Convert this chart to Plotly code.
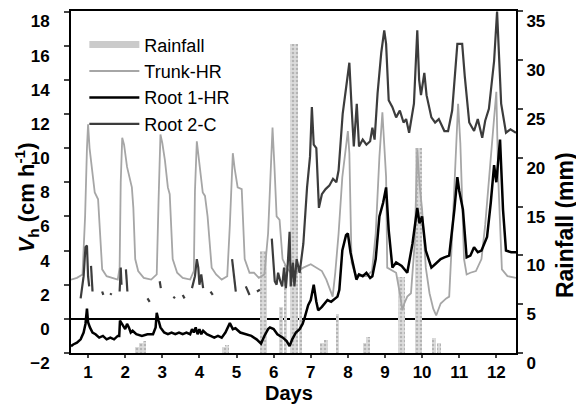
import plotly.graph_objects as go

# ---- data ----
trunk_days = [0.54, 0.7, 0.85, 0.92, 0.97, 1.0, 1.04, 1.1, 1.18, 1.27, 1.32, 1.38, 1.5, 1.65, 1.8,
              1.85, 1.88, 1.92, 1.97, 2.05, 2.18, 2.22, 2.27, 2.35, 2.5, 2.7, 2.85, 2.9, 2.95, 3.0,
              3.07, 3.15, 3.2, 3.28, 3.4, 3.55, 3.75, 3.85, 3.88, 3.93, 4.0, 4.09, 4.15, 4.22, 4.33,
              4.45, 4.6, 4.75, 4.82, 4.9, 4.95, 5.03, 5.14, 5.22, 5.35, 5.47, 5.6, 5.75, 5.85, 5.92,
              5.97, 6.02, 6.08, 6.16, 6.24, 6.35, 6.5, 6.65, 6.8, 7.0, 7.16, 7.3, 7.42, 7.59, 7.66,
              7.75, 7.85, 8.0, 8.04, 8.1, 8.2, 8.35, 8.5, 8.65, 8.75, 8.85, 8.93, 8.98, 9.03, 9.06,
              9.2, 9.3, 9.4, 9.47, 9.52, 9.6, 9.7, 9.8, 9.87, 9.93, 10.0, 10.1, 10.2, 10.3, 10.38,
              10.5, 10.65, 10.73, 10.8, 10.9, 10.97, 11.03, 11.13, 11.2, 11.3, 11.45, 11.6, 11.7,
              11.8, 11.93, 12.0, 12.05, 12.15, 12.3, 12.53]
trunk_hr = [2.3, 2.4, 2.6, 6.0, 10.0, 11.4, 10.0, 8.9, 7.4, 7.0, 5.0, 2.9, 2.5, 2.4, 2.3,
            3.0, 8.0, 10.6, 10.2, 8.9, 7.7, 6.5, 3.5, 2.8, 2.4, 2.3, 2.6, 7.0, 10.8, 10.3,
            9.3, 7.7, 7.3, 3.5, 2.7, 2.4, 2.3, 2.8, 7.5, 10.4, 8.9, 7.4, 7.2, 6.0, 3.0,
            2.6, 2.3, 2.5, 5.5, 9.7, 8.8, 7.7, 7.6, 3.5, 2.7, 2.7, 2.4, 2.6, 5.0, 9.0,
            11.2, 9.0, 6.0, 5.8, 3.5, 3.0, 2.6, 2.8, 3.0, 3.2, 3.0, 2.8, 2.3, 1.3, 2.7,
            5.0, 8.3, 11.0, 9.7, 3.3, 2.6, 2.5, 2.5, 2.8, 5.0, 9.5, 12.1, 10.5, 8.3, 3.0,
            2.8, 2.7, 1.5, 0.5, 0.9, 1.3, 1.5, 4.4, 9.9, 7.9, 6.4, 3.0, 1.5, 0.6, 0.2,
            0.9, 1.2, 1.3, 4.4, 9.0, 12.6, 10.3, 3.5, 2.6, 2.7, 2.8, 3.5, 5.5,
            8.3, 11.5, 13.3, 8.3, 2.9, 2.5, 2.4]

root1_days = [0.54, 0.6, 0.7, 0.8, 0.88, 0.93, 0.97, 1.0, 1.05, 1.12, 1.2, 1.3, 1.4, 1.5, 1.6,
              1.7, 1.8, 1.84, 1.86, 1.92, 2.0, 2.05, 2.1, 2.15, 2.2, 2.3, 2.45, 2.6, 2.75, 2.82,
              2.85, 2.9, 2.95, 3.05, 3.15, 3.25, 3.35, 3.45, 3.55, 3.65, 3.75, 3.8, 3.85, 3.9,
              3.95, 4.0, 4.05, 4.1, 4.2, 4.3, 4.4, 4.5, 4.6, 4.7, 4.76, 4.82, 4.9, 4.97, 5.1,
              5.25, 5.4, 5.54, 5.66, 5.75, 5.85, 5.9, 6.0, 6.1, 6.25, 6.35, 6.43, 6.5, 6.6, 6.7,
              6.78, 6.84, 6.93, 7.0, 7.08, 7.15, 7.2, 7.3, 7.45, 7.55, 7.72, 7.77, 7.85, 7.95,
              8.0, 8.07, 8.15, 8.23, 8.3, 8.4, 8.5, 8.6, 8.66, 8.75, 8.85, 8.95, 9.03, 9.1, 9.2,
              9.3, 9.45, 9.6, 9.74, 9.87, 9.93, 10.0, 10.1, 10.25, 10.35, 10.5, 10.6, 10.73,
              10.87, 10.95, 11.0, 11.1, 11.2, 11.3, 11.4, 11.5, 11.6, 11.75, 11.85, 11.94, 12.0,
              12.1, 12.18, 12.26, 12.4, 12.53]
root1_hr = [-1.6, -1.5, -1.4, -1.2, -0.8, -0.3, 0.6, -0.2, -0.5, -0.8, -0.9, -1.1, -1.0, -1.2, -1.1,
            -1.2, -1.0, -1.0, -0.1, -0.3, -0.6, -0.3, -0.5, -0.8, -0.7, -0.9, -1.0, -0.9, -0.9, -0.5,
            0.35, -0.1, -0.5, -0.8, -0.9, -0.8, -0.9, -0.8, -0.9, -0.8, -0.9, -0.6, -0.8, -0.5,
            -0.9, -0.6, -0.9, -0.7, -0.9, -1.0, -1.1, -1.0, -1.1, -0.8, -0.5, -0.25, -0.6, -0.55, -0.8,
            -0.9, -1.0, -1.2, -1.45, -1.0, -0.6, -0.5, -0.6, -0.9, -1.1, -1.3, -1.6, -1.2, -0.8, -0.6,
            -0.3, 0.1, 0.8, 1.1, 2.0, 1.0, 0.5, 0.7, 1.1, 1.0, 1.3, 1.7, 4.0, 4.9,
            5.0, 3.9, 3.0, 2.3, 2.6, 2.5, 2.7, 2.4, 2.5, 3.5, 6.0, 6.8, 7.7, 5.2, 3.0,
            3.3, 3.1, 2.7, 4.4, 6.5, 5.6, 6.0, 4.0, 3.0, 3.2, 3.5, 3.6, 3.7,
            6.4, 8.3, 7.5, 6.4, 3.6, 3.7, 4.2, 3.9, 4.0, 4.8, 6.8, 9.0, 8.0,
            10.5, 6.4, 4.0, 3.9, 3.9]

# None marks the breaks in the Root 2 record
root2_days = [0.8, 0.88, 0.93, 0.97, 1.0, 1.03, None, 1.08, 1.12, None, 1.38, 1.41, None,
              1.6, 1.63, None, 1.85, 1.88, 1.9, None, 2.02, 2.06, None, 2.6, 2.66, None,
              2.93, 2.96, None, 3.3, 3.34, None, 3.55, 3.6, None,
              3.8, 3.88, 3.93, 3.97, 4.0, 4.05, 4.1, None, 4.3, 4.36, None,
              4.88, 4.93, 4.98, None, 5.25, 5.3, 5.35, None, 5.55, 5.63, None,
              5.95, 5.98, 6.03, 6.08, 6.12, 6.18, 6.23, 6.28, 6.33, 6.38, 6.43, 6.46, 6.52, 6.56,
              6.62, 6.7, 6.8, 6.9, 6.98, 7.03, 7.08, 7.15, 7.22, 7.3, 7.4, 7.5, 7.6, 7.69, 7.75,
              7.86, 7.96, 8.04, 8.1, 8.16, 8.24, 8.3, 8.4, 8.5, 8.6, 8.66, 8.72, 8.8, 8.9, 8.98,
              9.03, 9.1, 9.2, 9.3, 9.4, 9.5, 9.57, 9.65, 9.78, 9.87, 9.92, 9.97, 10.06, 10.12,
              10.25, 10.35, 10.45, 10.6, 10.7, 10.81, 10.95, 11.08, 11.15, 11.27, 11.4, 11.5,
              11.62, 11.7, 11.8, 11.94, 12.02, 12.08, 12.13, 12.26, 12.38, 12.53]
root2_c = [1.2, 2.5, 4.2, 4.3, 2.5, 1.9, None, 3.1, 1.6, None, 1.6, 1.4, None,
           1.4, 1.5, None, 1.6, 3.0, 2.0, None, 2.9, 1.6, None, 1.2, 1.0, None,
           2.2, 1.8, None, 1.3, 1.2, None, 1.4, 1.2, None,
           1.8, 2.5, 3.5, 3.0, 2.0, 2.6, 1.8, None, 1.6, 1.4, None,
           3.5, 2.5, 1.6, None, 1.9, 1.6, 1.4, None, 1.6, 1.7, None,
           4.7, 3.5, 2.2, 2.0, 2.7, 2.2, 1.9, 3.0, 1.8, 3.2, 5.1, 1.9, 3.3, 1.9,
           3.5, 2.7, 4.4, 7.7, 9.5, 12.4, 10.2, 10.0, 6.5, 7.3, 7.6, 7.8, 8.2, 8.0, 8.7,
           12.0, 13.6, 15.0, 12.4, 10.1, 12.6, 10.1, 10.5, 10.2, 10.4, 11.2, 10.5, 13.2, 15.6, 16.9,
           16.1, 12.8, 12.4, 11.8, 12.2, 11.5, 11.7, 10.9, 12.6, 16.9, 14.0, 13.1, 14.4, 13.1,
           11.8, 11.5, 11.7, 11.0, 11.0, 12.2, 16.1, 16.1, 14.2, 11.5, 11.0, 11.7,
           10.6, 11.6, 12.3, 15.1, 18.0, 14.7, 12.6, 10.9, 11.1, 10.9]

rain_days = [2.32, 2.42, 2.52, 4.65, 4.75, 5.68, 5.78, 6.2, 6.32, 6.5, 6.6, 6.72, 7.3, 7.42,
             7.72, 8.45, 8.55, 9.4, 9.5, 9.85, 9.95, 10.32, 10.45]
rain_mm = [0.6, 1.0, 1.2, 0.6, 0.8, 10.5, 10.5, 4.7, 9.0, 31.7, 31.7, 8.8, 1.0, 1.3,
           4.0, 1.0, 1.6, 7.8, 7.8, 21.0, 21.0, 1.5, 1.0]

day_ticks = list(range(1, 13))
vh_ticks = list(range(-2, 19, 2))
rain_ticks = list(range(0, 36, 5))

FONT = "Liberation Sans, Arial, sans-serif"

fig = go.Figure()

# rainfall on the primary (right-hand) axis so it sits beneath the sap-flow lines
fig.add_trace(go.Bar(x=rain_days, y=rain_mm, width=0.1, yaxis="y", showlegend=False,
                     marker=dict(color="#dcdcdc", line_width=0,
                                 pattern=dict(shape=".", fgcolor="#8c8c8c", size=4, solidity=0.35))))

# legend stand-in for the rainfall bars
fig.add_trace(go.Scatter(x=[None], y=[None], yaxis="y2", mode="lines", name="Rainfall",
                         line=dict(color="#cbcbcb", width=7)))
fig.add_trace(go.Scatter(x=trunk_days, y=trunk_hr, yaxis="y2", mode="lines", name="Trunk-HR",
                         line=dict(color="#a6a6a6", width=1.8)))
fig.add_trace(go.Scatter(x=root1_days, y=root1_hr, yaxis="y2", mode="lines", name="Root 1-HR",
                         line=dict(color="#000000", width=2.5)))
fig.add_trace(go.Scatter(x=root2_days, y=root2_c, yaxis="y2", mode="lines", name="Root 2-C",
                         connectgaps=False, line=dict(color="#3c3c3c", width=2.2)))

tickfont = dict(family=FONT, size=17, color="black", weight="bold")

# the page body adds an 8 px offset, so the figure is 8 px smaller and margins shifted
fig.update_layout(
    width=576, height=396,
    margin=dict(l=63, r=68, t=3, b=51, autoexpand=False),
    paper_bgcolor="white", plot_bgcolor="white",
    font=dict(family=FONT, color="black"),
    bargap=0,
    xaxis=dict(range=[0.54, 12.53], tickvals=day_ticks, ticks="outside", ticklen=3, tickwidth=2,
               showline=True, linewidth=2, linecolor="black", mirror=True, showgrid=False,
               zeroline=False, tickfont=tickfont, automargin=False),
    yaxis=dict(side="right", range=[0, 35.05], tickvals=rain_ticks, ticks="outside", ticklen=5,
               tickwidth=2, showline=True, linewidth=2, linecolor="black", showgrid=False,
               zeroline=False, tickfont=tickfont, ticklabelshift=10, automargin=False),
    yaxis2=dict(overlaying="y", side="left", anchor="x", range=[-2, 18.03], tickvals=vh_ticks,
                ticks="outside", ticklen=5, tickwidth=2, showline=True, linewidth=2,
                linecolor="black", showgrid=False, zeroline=True, zerolinecolor="black",
                zerolinewidth=2, tickfont=tickfont, ticklabelshift=10, ticklabelstandoff=11,
                automargin=False),
    legend=dict(x=0.03, y=0.955, xanchor="left", yanchor="top", bgcolor="rgba(0,0,0,0)",
                font=dict(family=FONT, size=18, color="black"), itemwidth=50,
                traceorder="normal"),
    annotations=[
        dict(text="<b><i>V</i><sub>h</sub> (cm h<sup>-1</sup>)</b>", textangle=-90,
             xref="paper", yref="paper", x=-0.101, y=0.455, xanchor="center", yanchor="middle",
             showarrow=False, font=dict(family=FONT, size=22)),
        dict(text="<b>Rainfall (mm)</b>", textangle=-90, xref="paper", yref="paper",
             x=1.11, y=0.374, xanchor="center", yanchor="middle", showarrow=False,
             font=dict(family=FONT, size=23)),
        dict(text="<b>Days</b>", xref="paper", yref="paper", x=0.49, y=-0.118,
             xanchor="center", yanchor="middle", showarrow=False,
             font=dict(family=FONT, size=20)),
    ],
)

fig.write_html("out.html")
